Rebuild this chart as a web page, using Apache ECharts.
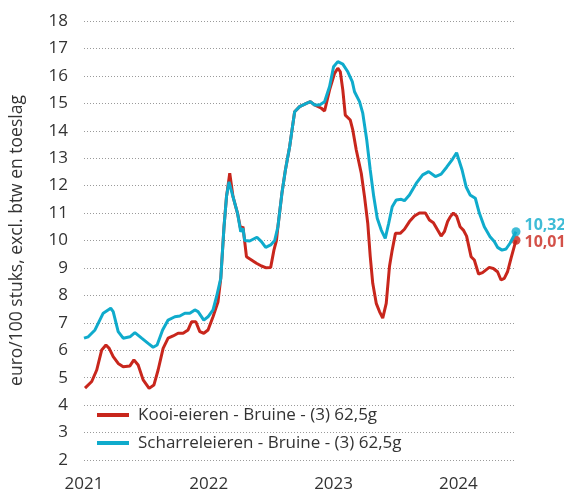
<!DOCTYPE html>
<html>
<head>
<meta charset="utf-8">
<script src="https://cdn.jsdelivr.net/npm/echarts@6/dist/echarts.min.js"></script>
<style>
  html, body { margin: 0; padding: 0; background: #fff; }
  #chart { width: 564px; height: 494px; }
</style>
</head>
<body>
<div id="chart"></div>
<script>
// decimal years + prices (euro/100 stuks)
var kooiName = 'Kooi-eieren - Bruine - (3) 62,5g'
var scharrelName = 'Scharreleieren - Bruine - (3) 62,5g'

var kooiYears = [
  2021.008, 2021.062, 2021.102, 2021.142, 2021.176, 2021.202, 2021.234, 2021.274, 2021.314, 2021.368,
  2021.400, 2021.434, 2021.474, 2021.522, 2021.560, 2021.594, 2021.634, 2021.674, 2021.714, 2021.754,
  2021.794, 2021.834, 2021.862, 2021.896, 2021.928, 2021.960, 2021.994, 2022.034, 2022.074, 2022.096,
  2022.122, 2022.142, 2022.168, 2022.194, 2022.230, 2022.256, 2022.274, 2022.302, 2022.342, 2022.382,
  2022.422, 2022.456, 2022.496, 2022.522, 2022.542, 2022.554, 2022.586, 2022.614, 2022.648, 2022.688,
  2022.728, 2022.782, 2022.814, 2022.848, 2022.902, 2022.928, 2022.968, 2023.008, 2023.034, 2023.054,
  2023.074, 2023.094, 2023.134, 2023.154, 2023.182, 2023.222, 2023.248, 2023.274, 2023.294, 2023.314,
  2023.342, 2023.368, 2023.394, 2023.422, 2023.448, 2023.470, 2023.496, 2023.534, 2023.568, 2023.608,
  2023.648, 2023.688, 2023.736, 2023.768, 2023.800, 2023.834, 2023.862, 2023.888, 2023.914, 2023.936,
  2023.960, 2023.986, 2024.014, 2024.040, 2024.066, 2024.102, 2024.128, 2024.162, 2024.194, 2024.222,
  2024.248, 2024.280, 2024.314, 2024.342, 2024.368, 2024.394, 2024.422, 2024.462
]
var kooiValues = [
  4.62, 4.86, 5.28, 6.01, 6.19, 6.07, 5.77, 5.52, 5.40, 5.43,
  5.65, 5.46, 4.92, 4.61, 4.73, 5.28, 6.07, 6.44, 6.52, 6.62,
  6.62, 6.74, 7.04, 7.04, 6.68, 6.62, 6.74, 7.22, 7.77, 8.62,
  10.5, 11.6, 12.45, 11.6, 11.0, 10.4, 10.5, 9.41, 9.29, 9.17,
  9.07, 9.01, 9.02, 9.65, 10.0, 10.5, 11.72, 12.57, 13.42, 14.69,
  14.88, 15.0, 15.06, 14.94, 14.82, 14.72, 15.49, 16.09, 16.28, 16.15,
  15.49, 14.57, 14.39, 14.03, 13.30, 12.45, 11.60, 10.63, 9.41, 8.44,
  7.71, 7.41, 7.17, 7.71, 9.05, 9.65, 10.26, 10.26, 10.41, 10.69,
  10.89, 11.0, 11.0, 10.75, 10.65, 10.38, 10.16, 10.32, 10.69, 10.87,
  11.0, 10.89, 10.50, 10.38, 10.16, 9.41, 9.29, 8.78, 8.83, 8.93,
  9.02, 8.98, 8.86, 8.56, 8.62, 8.86, 9.35, 10.01
]

var scharrelYears = [
  2021.000, 2021.034, 2021.088, 2021.154, 2021.214, 2021.234, 2021.274, 2021.314, 2021.368, 2021.408,
  2021.462, 2021.514, 2021.554, 2021.586, 2021.630, 2021.674, 2021.728, 2021.768, 2021.808, 2021.848,
  2021.888, 2021.914, 2021.960, 2021.994, 2022.034, 2022.062, 2022.096, 2022.122, 2022.142, 2022.162,
  2022.194, 2022.230, 2022.256, 2022.274, 2022.288, 2022.328, 2022.386, 2022.422, 2022.456, 2022.496,
  2022.528, 2022.554, 2022.586, 2022.614, 2022.648, 2022.688, 2022.728, 2022.782, 2022.814, 2022.848,
  2022.888, 2022.928, 2022.968, 2023.000, 2023.034, 2023.074, 2023.114, 2023.150, 2023.168, 2023.208,
  2023.234, 2023.266, 2023.294, 2023.322, 2023.350, 2023.382, 2023.414, 2023.442, 2023.470, 2023.502,
  2023.542, 2023.568, 2023.608, 2023.662, 2023.714, 2023.762, 2023.816, 2023.862, 2023.906, 2023.954,
  2023.986, 2024.002, 2024.030, 2024.062, 2024.094, 2024.136, 2024.168, 2024.208, 2024.254, 2024.288,
  2024.314, 2024.350, 2024.382, 2024.414, 2024.462
]
var scharrelValues = [
  6.44, 6.49, 6.74, 7.35, 7.53, 7.41, 6.68, 6.44, 6.49, 6.64,
  6.44, 6.25, 6.11, 6.19, 6.74, 7.10, 7.22, 7.25, 7.35, 7.35,
  7.47, 7.41, 7.10, 7.22, 7.47, 7.95, 8.62, 10.5, 11.6, 12.14,
  11.6, 11.0, 10.32, 10.44, 10.0, 9.98, 10.12, 9.96, 9.75, 9.84,
  10.0, 10.50, 11.72, 12.57, 13.42, 14.69, 14.88, 15.0, 15.06, 14.94,
  14.94, 15.06, 15.61, 16.33, 16.52, 16.43, 16.15, 15.79, 15.42, 15.06,
  14.64, 13.66, 12.57, 11.60, 10.81, 10.38, 10.08, 10.63, 11.23, 11.48,
  11.50, 11.45, 11.66, 12.08, 12.39, 12.51, 12.33, 12.42, 12.67, 12.97,
  13.20, 13.18, 12.57, 11.96, 11.66, 11.54, 11.0, 10.50, 10.14, 9.96,
  9.75, 9.65, 9.69, 9.90, 10.32
]

var yearTicks = [2021, 2022, 2023, 2024]

var red = '#c8261c'
var cyan = '#0fabcc'
var txt = '#333'
var font = 'Open Sans'

function pairs(xs, ys) {
  return xs.map(function (x, i) { return [x, ys[i]] })
}
function last(xs, ys) {
  return [[xs[xs.length - 1], ys[ys.length - 1]]]
}
function nl(v) {
  return v.toFixed(2).replace('.', ',')
}

var chart = echarts.init(document.getElementById('chart'))
chart.setOption({
  animation: false,
  textStyle: { fontFamily: font },
  grid: { left: 83, right: 48, top: 21, bottom: 34 },
  legend: {
    data: [kooiName, scharrelName],
    orient: 'vertical',
    left: 97,
    top: 405,
    padding: 0,
    itemGap: 8,
    itemWidth: 32,
    itemHeight: 4,
    icon: 'rect',
    textStyle: { fontSize: 17, color: txt, lineHeight: 20, padding: [0, 0, 0, 4] }
  },
  xAxis: {
    type: 'value',
    min: 2021,
    max: kooiYears[kooiYears.length - 1],
    interval: 1,
    axisLine: { show: false },
    axisTick: { show: false },
    splitLine: { show: false },
    axisLabel: {
      fontSize: 17,
      color: txt,
      margin: 16,
      formatter: function (v) { return yearTicks.indexOf(v) >= 0 ? String(v) : '' }
    }
  },
  yAxis: {
    type: 'value',
    min: 2,
    max: 18,
    interval: 1,
    name: 'euro/100 stuks, excl. btw en toeslag',
    nameLocation: 'middle',
    nameGap: 58,
    nameTextStyle: { fontSize: 17.5, color: txt },
    axisLine: { show: false },
    axisTick: { show: false },
    axisLabel: { fontSize: 17, color: txt, margin: 16 },
    splitLine: { lineStyle: { color: '#9a9a9a', type: [1, 2], width: 1 } }
  },
  series: [
    {
      name: kooiName,
      type: 'line',
      data: pairs(kooiYears, kooiValues),
      symbol: 'none',
      color: red,
      lineStyle: { width: 3, color: red }
    },
    {
      name: scharrelName,
      type: 'line',
      data: pairs(scharrelYears, scharrelValues),
      symbol: 'none',
      color: cyan,
      lineStyle: { width: 3, color: cyan }
    },
    {
      type: 'scatter',
      data: last(kooiYears, kooiValues),
      symbolSize: 9,
      itemStyle: { color: red },
      label: {
        show: true, position: 'right', distance: 4, offset: [0, 2],
        color: red, fontSize: 16, fontWeight: 'bold',
        formatter: function (p) { return nl(p.value[1]) }
      }
    },
    {
      type: 'scatter',
      data: last(scharrelYears, scharrelValues),
      symbolSize: 9,
      itemStyle: { color: cyan },
      label: {
        show: true, position: 'right', distance: 4, offset: [0, -6],
        color: cyan, fontSize: 16, fontWeight: 'bold',
        formatter: function (p) { return nl(p.value[1]) }
      }
    }
  ]
})
</script>
</body>
</html>
